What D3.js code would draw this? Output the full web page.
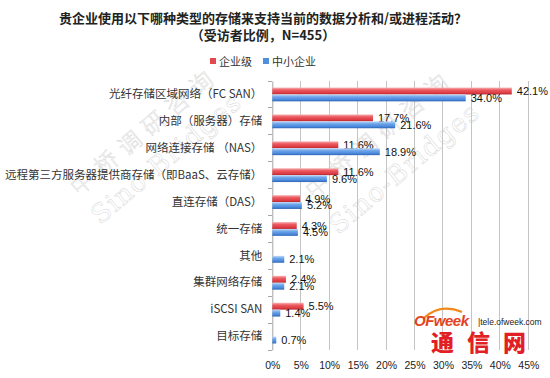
<!DOCTYPE html>
<html><head><meta charset="utf-8">
<script src="https://cdn.jsdelivr.net/npm/d3@7"></script>
<style>body{margin:0;background:#fff}svg{display:block}</style>
</head><body>
<script>
const titleLines = ['贵企业使用以下哪种类型的存储来支持当前的数据分析和/或进程活动？', '（受访者比例，N=455）'];
const seriesNames = ['企业级', '中小企业'];
const categories = ['光纤存储区域网络（FC SAN）', '内部（服务器）存储', '网络连接存储 （NAS）', '远程第三方服务器提供商存储（即BaaS、云存储）', '直连存储（DAS）', '统一存储', '其他', '集群网络存储', 'iSCSI SAN', '目标存储'];
const enterprise = [42.1, 17.7, 11.6, 11.6, 4.9, 4.3, null, 2.4, 5.5, null];
const smb = [34.0, 21.6, 18.9, 9.6, 5.2, 4.5, 2.1, 2.1, 1.4, 0.7];
const xTicks = [0, 5, 10, 15, 20, 25, 30, 35, 40, 45];

const W = 550, H = 378;
const svg = d3.select('body').append('svg').attr('width', W).attr('height', H);
const defs = svg.append('defs');
function grad(id, stops) {
  const g = defs.append('linearGradient').attr('id', id).attr('x1', 0).attr('y1', 0).attr('x2', 0).attr('y2', 1);
  stops.forEach(s => g.append('stop').attr('offset', s[0]).attr('stop-color', s[1]));
}
grad('gRed', [[0, '#f7b3b5'], [0.35, '#ec5a60'], [0.75, '#de3d44'], [1, '#b8262c']]);
grad('gBlue', [[0, '#c2d9f6'], [0.35, '#6ea6ea'], [0.75, '#4a88dc'], [1, '#2d64b4']]);

const cjk = '"Noto Sans CJK SC", "Noto Sans", sans-serif';
const x = d3.scaleLinear().domain([0, 45]).range([272.3, 528.3]);
const y = d3.scaleBand().domain(categories).range([81, 350]);
const sub = d3.scaleBand().domain(seriesNames).range([0, y.bandwidth()]).paddingOuter(0.95).paddingInner(0);

// watermarks
const wm = svg.append('g').attr('fill', 'none').attr('stroke', '#d4d4d4').attr('stroke-width', 0.45)
  .attr('font-family', '"DejaVu Serif", serif');
[[150, 137, 172, 165], [385, 140, 410, 175]].forEach(p => {
  wm.append('text').attr('transform', `translate(${p[0]},${p[1]}) rotate(-40)`).attr('text-anchor', 'middle')
    .attr('font-size', 23).attr('letter-spacing', 8).attr('font-weight', 300).attr('font-family', '"Noto Sans CJK SC", serif').text('中桥调研咨询');
  wm.append('text').attr('transform', `translate(${p[2]},${p[3]}) rotate(-40)`).attr('text-anchor', 'middle')
    .attr('font-size', 26).attr('letter-spacing', 1.5).text('Sino-Bridges');
});

// title
svg.append('g').selectAll('text').data(titleLines).join('text')
  .attr('x', 263).attr('y', (d, i) => 23 + i * 17).attr('text-anchor', 'middle')
  .attr('font-family', cjk).attr('font-weight', 'bold').attr('font-size', 13).attr('fill', '#222').text(d => d);

// legend
const leg = svg.append('g').attr('font-family', cjk).attr('font-size', 11).attr('fill', '#333');
const legX = [210, 263];
seriesNames.forEach((n, i) => {
  leg.append('rect').attr('x', legX[i]).attr('y', 58).attr('width', 6).attr('height', 6).attr('fill', i ? '#4f8fe0' : '#e4474e');
  leg.append('text').attr('x', legX[i] + 9).attr('y', 65.5).text(n);
});

// gridlines
svg.append('g').selectAll('line').data(xTicks.slice(1)).join('line')
  .attr('x1', d => x(d)).attr('x2', d => x(d)).attr('y1', 81).attr('y2', 350)
  .attr('stroke', '#c4c4c4').attr('stroke-width', 1).attr('shape-rendering', 'crispEdges');

// x axis labels
const xAxis = svg.append('g').attr('transform', 'translate(0,354)')
  .call(d3.axisBottom(x).tickValues(xTicks).tickFormat(d => d + '%').tickSize(0).tickPadding(8));
xAxis.select('.domain').remove();
xAxis.selectAll('text').attr('font-family', '"Liberation Sans", Arial, sans-serif').attr('font-size', 10.5).attr('fill', '#222');

// y axis
const yAxis = svg.append('g').attr('transform', 'translate(272.3,0)')
  .call(d3.axisLeft(y).tickSize(0).tickPadding(10));
yAxis.select('.domain').attr('stroke', '#a6a6a6');
yAxis.selectAll('text').attr('font-family', cjk).attr('font-size', 11.5).attr('fill', '#333');
const bounds = categories.map(c => y(c)).concat([350]);
yAxis.selectAll('line.b').data(bounds).join('line').attr('class', 'b')
  .attr('x1', -4).attr('x2', 0).attr('y1', d => d).attr('y2', d => d).attr('stroke', '#a6a6a6').attr('shape-rendering', 'crispEdges');

// bars
const series = [enterprise, smb];
const fills = ['url(#gRed)', 'url(#gBlue)'];
series.forEach((vals, si) => {
  const data = categories.map((c, i) => ({ c, v: vals[i] })).filter(d => d.v != null);
  const g = svg.append('g');
  g.selectAll('rect').data(data).join('rect')
    .attr('x', x(0)).attr('y', d => y(d.c) + sub(seriesNames[si]))
    .attr('width', d => x(d.v) - x(0)).attr('height', sub.bandwidth())
    .attr('fill', fills[si]);
  g.selectAll('text').data(data).join('text')
    .attr('x', d => x(d.v) + 5).attr('y', d => y(d.c) + sub(seriesNames[si]) + sub.bandwidth() / 2 + 4)
    .attr('font-family', '"Liberation Sans", Arial, sans-serif').attr('font-size', 11).attr('fill', '#111')
    .text(d => d.v.toFixed(1) + '%');
});

// logo
const logo = svg.append('g');
logo.append('path').attr('d', 'M424,318 Q440,303 462,312').attr('fill', 'none').attr('stroke', '#f08a1c').attr('stroke-width', 2.2);
logo.append('text').attr('x', 414).attr('y', 326).attr('font-family', '"Liberation Sans", Arial, sans-serif')
  .attr('font-weight', 'bold').attr('font-style', 'italic').attr('font-size', 15).attr('fill', '#e3421c').attr('letter-spacing', -0.5).text('OFweek');
logo.append('text').attr('x', 478).attr('y', 325).attr('font-family', '"Liberation Sans", Arial, sans-serif')
  .attr('font-size', 8.5).attr('fill', '#222').text('|tele.ofweek.com');
logo.append('text').attr('x', 431).attr('y', 351).attr('font-family', '"Noto Sans CJK SC", sans-serif')
  .attr('font-weight', 900).attr('font-size', 23).attr('fill', '#e21f26').attr('letter-spacing', 13).text('通信网');
</script>
</body></html>
